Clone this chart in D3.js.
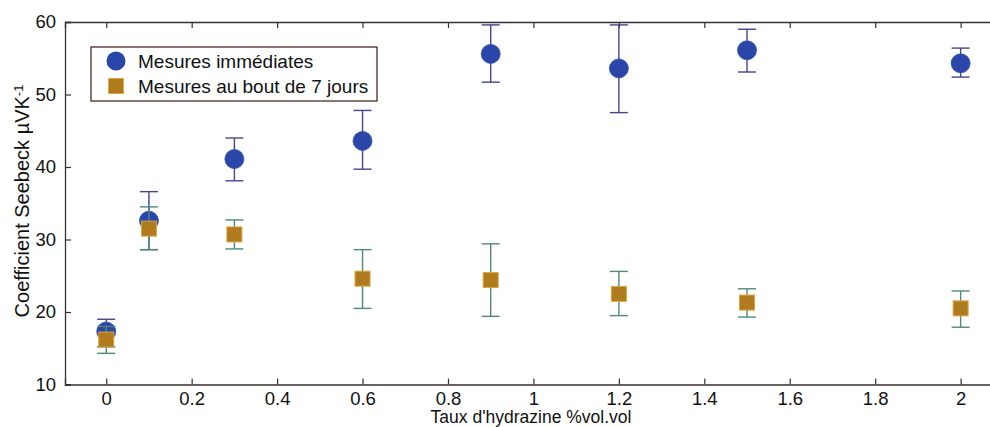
<!DOCTYPE html>
<html><head><meta charset="utf-8">
<script src="https://cdn.jsdelivr.net/npm/d3@7"></script>
<style>body{margin:0;background:#fff}svg{display:block}text{font-family:"Liberation Sans",Arial,sans-serif}</style>
</head><body>
<script>
const xValues = [0, 0.1, 0.3, 0.6, 0.9, 1.2, 1.5, 2];
const immediate = [17.3, 32.6, 41.1, 43.6, 55.6, 53.6, 56.1, 54.3];
const immediateHi = [19.0, 36.6, 44.0, 47.8, 59.6, 59.6, 59.0, 56.4];
const immediateLo = [15.2, 28.6, 38.1, 39.7, 51.7, 47.5, 53.1, 52.4];
const week = [16.2, 31.5, 30.7, 24.6, 24.4, 22.5, 21.3, 20.5];
const weekHi = [18.0, 34.5, 32.7, 28.6, 29.4, 25.6, 23.2, 22.9];
const weekLo = [14.3, 28.6, 28.7, 20.5, 19.4, 19.5, 19.3, 17.9];
const xTicks = [0, 0.2, 0.4, 0.6, 0.8, 1, 1.2, 1.4, 1.6, 1.8, 2];
const yTicks = [10, 20, 30, 40, 50, 60];
const seriesNames = ["Mesures immédiates", "Mesures au bout de 7 jours"];

const W = 990, H = 427;
const svg = d3.select("body").append("svg").attr("width", W).attr("height", H);
const x = d3.scaleLinear().domain([-0.0965, 2.1]).range([65, 65 + 2.1965 * 427.2]);
const y = d3.scaleLinear().domain([10, 60]).range([384.5, 22]);
const axisColor = "#3a2e2e";

// axes
const gx = svg.append("g").attr("transform", `translate(0,${y(10)})`)
  .call(d3.axisBottom(x).tickValues(xTicks).tickSize(-6).tickPadding(0).tickFormat(d3.format("")));
const gxTop = svg.append("g").attr("transform", `translate(0,${y(60)})`)
  .call(d3.axisTop(x).tickValues(xTicks).tickSize(-6).tickFormat(""));
const gy = svg.append("g").attr("transform", `translate(${x.range()[0]},0)`)
  .call(d3.axisLeft(y).tickValues(yTicks).tickSize(-6).tickPadding(9));
[gx, gxTop, gy].forEach(g => {
  g.select(".domain").attr("stroke", axisColor).attr("stroke-width", 1.3);
  g.selectAll(".tick line").attr("stroke", axisColor).attr("stroke-width", 1.2);
  g.selectAll(".tick text").attr("fill", "#111").attr("font-size", 18.5);
});
gx.selectAll(".tick text").attr("y", 20).attr("dy", "0");

// error bars + markers
function errBars(vals, hi, lo, color) {
  const g = svg.append("g").attr("stroke", color).attr("stroke-width", 1.4);
  xValues.forEach((xv, i) => {
    g.append("line").attr("x1", x(xv)).attr("x2", x(xv)).attr("y1", y(hi[i])).attr("y2", y(lo[i]));
    g.append("line").attr("x1", x(xv) - 9).attr("x2", x(xv) + 9).attr("y1", y(hi[i])).attr("y2", y(hi[i]));
    g.append("line").attr("x1", x(xv) - 9).attr("x2", x(xv) + 9).attr("y1", y(lo[i])).attr("y2", y(lo[i]));
  });
}
errBars(immediate, immediateHi, immediateLo, "#45458c");
svg.append("g").selectAll("circle").data(immediate).join("circle")
  .attr("cx", (d, i) => x(xValues[i])).attr("cy", d => y(d)).attr("r", 9.5)
  .attr("fill", "#2a46a8").attr("stroke", "#3550b0").attr("stroke-width", 0.8);
errBars(week, weekHi, weekLo, "#4f8a78");
svg.append("g").selectAll("rect").data(week).join("rect")
  .attr("x", (d, i) => x(xValues[i]) - 7.5).attr("y", d => y(d) - 7.5)
  .attr("width", 15).attr("height", 15)
  .attr("fill", "#b07a1e").attr("stroke", "#d9a640").attr("stroke-width", 1);

// legend
const lg = svg.append("g");
lg.append("rect").attr("x", 91).attr("y", 47).attr("width", 286).attr("height", 54)
  .attr("fill", "#fff").attr("stroke", "#4a2a22").attr("stroke-width", 1.3);
lg.append("circle").attr("cx", 116).attr("cy", 61).attr("r", 9.5).attr("fill", "#2a46a8");
lg.append("rect").attr("x", 108.5).attr("y", 78.5).attr("width", 15).attr("height", 15)
  .attr("fill", "#b07a1e").attr("stroke", "#d9a640");
lg.selectAll("text").data(seriesNames).join("text")
  .attr("x", 138).attr("y", (d, i) => 61 + i * 25).attr("dy", "0.35em")
  .attr("font-size", 19).attr("fill", "#111").text(d => d);

// axis labels
svg.append("text").attr("x", 531).attr("y", 423.2).attr("text-anchor", "middle")
  .attr("font-size", 17.5).attr("fill", "#111").text("Taux d'hydrazine %vol.vol");
const yl = svg.append("text").attr("transform", "translate(29,201) rotate(-90)")
  .attr("text-anchor", "middle").attr("font-size", 20).attr("fill", "#111");
yl.append("tspan").text("Coefficient Seebeck µVK");
yl.append("tspan").attr("dy", "-0.5em").attr("font-size", 13).text("-1");
</script>
</body></html>
